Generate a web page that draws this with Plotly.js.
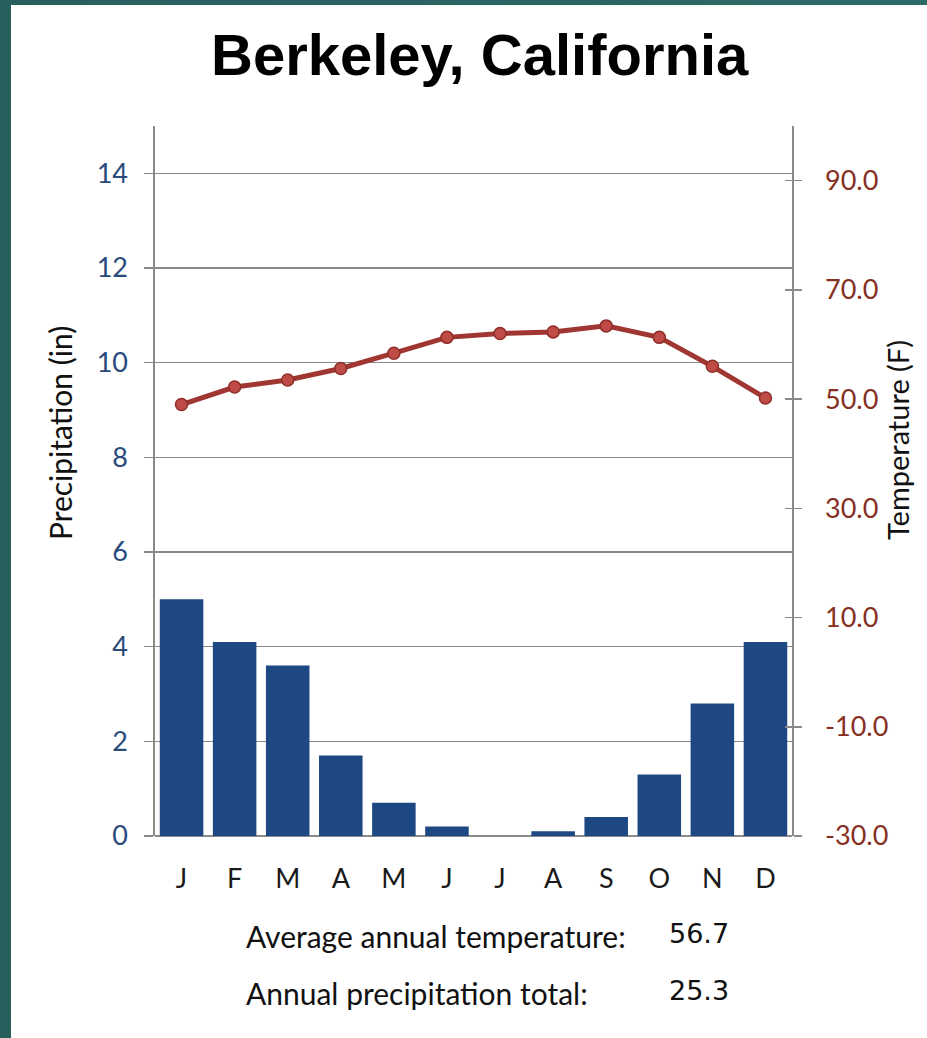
<!DOCTYPE html>
<html>
<head>
<meta charset="utf-8">
<script src="https://cdn.plot.ly/plotly-3.0.1.min.js"></script>
<style>
  html, body { margin: 0; padding: 0; width: 927px; height: 1038px; overflow: hidden;
    background: linear-gradient(90deg, #275f5d, #2e6a67); }
  #chart { position: absolute; left: 11px; top: 5px; width: 916px; height: 1033px; background: #ffffff; }
</style>
</head>
<body>
<div id="chart"></div>
<script>
// ---- data ----
const months = ["J", "F", "M", "A", "M", "J", "J", "A", "S", "O", "N", "D"];
const precipitation = [5.0, 4.1, 3.6, 1.7, 0.7, 0.2, 0.0, 0.1, 0.4, 1.3, 2.8, 4.1];
const temperature = [49.0, 52.2, 53.5, 55.6, 58.4, 61.3, 62.0, 62.3, 63.4, 61.3, 56.0, 50.2];
const tempTicks = [-30, -10, 10, 30, 50, 70, 90];
const tempTickText = tempTicks.map(v => v.toFixed(1));
const summaryLabels = ["Average annual temperature:", "Annual precipitation total:"];
const summaryValues = ["56.7", "25.3"];
const chartTitle = "Berkeley, California";
const leftTitle = "Precipitation (in)";
const rightTitle = "Temperature (F)";

const idx = months.map((_, i) => i);
const grey = "#8a8a8a";
const bodyFont = "Lato, 'Open Sans', sans-serif";

const traces = [
  {
    type: "bar", x: idx, y: precipitation, yaxis: "y",
    marker: { color: "#1e4883", line: { width: 0 } },
    hoverinfo: "y"
  },
  {
    type: "scatter", mode: "lines+markers", x: idx, y: temperature, yaxis: "y2",
    line: { color: "#a03632", width: 5 },
    marker: { size: 12, color: "#bf4b46", line: { color: "#8e2e2a", width: 1.5 } },
    hoverinfo: "y"
  },
  {
    type: "scatter", mode: "markers", x: [], y: [], yaxis: "y3", showlegend: false, hoverinfo: "skip"
  }
];

const annotations = [
  { text: chartTitle, xref: "paper", yref: "paper", x: 0.51, y: 1.101, xanchor: "center", yanchor: "middle",
    showarrow: false, font: { family: "'Liberation Sans', Arial, sans-serif", size: 58, color: "#000000", weight: "bold" } },
  { text: leftTitle, xref: "paper", yref: "paper", x: -0.149, y: 0.5676, xanchor: "center", yanchor: "middle",
    textangle: -90, showarrow: false, font: { family: bodyFont, size: 30, color: "#111111" } },
  { text: rightTitle, xref: "paper", yref: "paper", x: 1.1648, y: 0.5577, xanchor: "center", yanchor: "middle",
    textangle: -90, showarrow: false, font: { family: bodyFont, size: 29, color: "#111111" } }
];
const summaryY = [-0.1408, -0.2211];
summaryLabels.forEach((lab, i) => {
  annotations.push({ text: lab, xref: "paper", yref: "paper", x: 0.139, y: summaryY[i], xanchor: "left", yanchor: "middle",
    showarrow: false, font: { family: bodyFont, size: 30, color: "#111111" } });
  annotations.push({ text: summaryValues[i], xref: "paper", yref: "paper", x: 0.803, y: summaryY[i] + 0.004, xanchor: "left", yanchor: "middle",
    showarrow: false, font: { family: "'DejaVu Sans', sans-serif", size: 27, color: "#111111" } });
});

const layout = {
  width: 916, height: 1033,
  margin: { l: 144, r: 135, t: 121, b: 202, pad: 0 },
  paper_bgcolor: "#ffffff", plot_bgcolor: "#ffffff",
  showlegend: false,
  bargap: 0.18,
  xaxis: {
    range: [-0.5, 11.5], tickvals: idx, ticktext: months, ticks: "",
    showgrid: false, zeroline: false, showline: false,
    tickfont: { family: bodyFont, size: 27, color: "#1a1a1a" },
    ticklabelstandoff: 24, fixedrange: true
  },
  yaxis: {
    range: [0, 15], tick0: 0, dtick: 2, side: "left",
    showgrid: true, gridcolor: grey, gridwidth: 1.6,
    zeroline: true, zerolinecolor: grey, zerolinewidth: 1.8,
    showline: true, linecolor: grey, linewidth: 1.6,
    ticks: "outside", ticklen: 9, tickcolor: grey, tickwidth: 1.5,
    tickfont: { family: bodyFont, size: 27, color: "#2a4a7c" },
    ticklabelstandoff: 11, fixedrange: true
  },
  yaxis2: {
    range: [-30, 100], overlaying: "y", side: "right", anchor: "x",
    tickvals: tempTicks, ticktext: tempTickText,
    showgrid: false, zeroline: false,
    showline: true, linecolor: grey, linewidth: 1.6,
    ticks: "outside", ticklen: 8, tickcolor: grey, tickwidth: 1.5,
    tickfont: { family: bodyFont, size: 27, color: "#86301f" },
    ticklabelstandoff: 18, fixedrange: true
  },
  yaxis3: {
    range: [-30, 100], overlaying: "y", side: "right", anchor: "x",
    tickvals: tempTicks, showticklabels: false,
    showgrid: false, zeroline: false, showline: false,
    ticks: "inside", ticklen: 7, tickcolor: grey, tickwidth: 1.5, fixedrange: true
  },
  annotations: annotations
};

Plotly.newPlot("chart", traces, layout, { staticPlot: true, displayModeBar: false });
</script>
</body>
</html>
